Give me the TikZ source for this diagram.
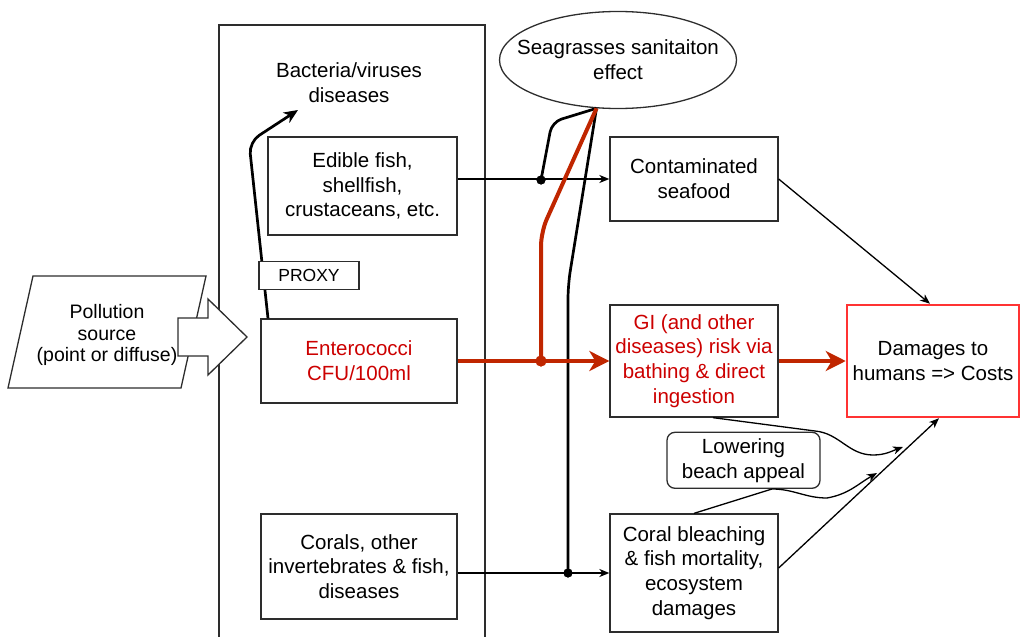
\documentclass[tikz,border=0pt]{standalone}
\usepackage{fontspec}
\setmainfont{Liberation Sans}
\usetikzlibrary{arrows.meta,positioning,shapes.geometric}
\definecolor{txtred}{RGB}{204,0,0}
\definecolor{linkred}{RGB}{192,38,0}
\definecolor{costred}{RGB}{255,51,51}
\definecolor{boxgray}{RGB}{45,45,45}

\begin{document}
\begin{tikzpicture}[
            x=1pt, y=-1pt,
            >={Stealth[length=10pt,width=8pt,inset=3pt]},
            font=\fontsize{20.5}{24.8}\selectfont,
            box/.style={draw=boxgray, line width=1.3pt, align=center, inner sep=0pt},
            link/.style={line width=1.3pt, ->},
            heavy/.style={line width=2.7pt},
            redlink/.style={line width=4pt, draw=linkred},
            bigtip/.style={-{Stealth[length=20pt,width=20pt,inset=6pt]}},
            joint/.style={circle, fill, inner sep=0pt, minimum size=9pt}
        ]
        \useasboundingbox (0,0) rectangle (1021,637);
        % outer frame of the water compartment
        \draw[line width=1.3pt, draw=boxgray] (219,25) rectangle (485,660);

        % pollution source and inflow arrow
        \draw[line width=1.3pt, draw=boxgray, fill=white] (33,276) -- (206,276) -- (181,388) -- (8,388) -- cycle;
        \node[align=center, font=\fontsize{19.5}{21.8}\selectfont] (src) at (107,335) {Pollution\\source\\(point or diffuse)};
        \draw[line width=1.3pt, draw=boxgray, fill=white] (178,318) -- (208,318) -- (208,299) -- (247,337)
            -- (208,375) -- (208,356) -- (178,356) -- cycle;

        \node[align=center] (bact) at (349,83) {Bacteria/viruses\\diseases};
        \node[box, minimum width=189pt, minimum height=98pt] (fish) at (362.5,186) {Edible fish,\\shellfish,\\crustaceans, etc.};
        \node[box, minimum width=196pt, minimum height=84pt, text=txtred] (entero) at (359,361) {Enterococci\\CFU/100ml};
        \node[box, minimum width=196pt, minimum height=105pt] (corals) at (359,566.5) {Corals, other\\invertebrates \& fish,\\diseases};
        \node[ellipse, draw=boxgray, line width=1.3pt, minimum width=237pt, minimum height=97pt,
            inner xsep=-25pt, inner ysep=0pt, align=center] (sea) at (618,60) {Seagrasses sanitaiton\\effect};

        \node[box, minimum width=168pt, minimum height=84pt] (food) at (694,179) {Contaminated\\seafood};
        \node[box, minimum width=168pt, minimum height=112pt, text=txtred] (gi) at (694,361) {GI (and other\\diseases) risk via\\bathing \& direct\\ingestion};
        \node[box, minimum width=168pt, minimum height=118pt] (coral) at (694,573) {Coral bleaching\\\& fish mortality,\\ecosystem\\damages};
        \node[box, draw=costred, line width=2.5pt, minimum width=172pt, minimum height=112pt] (dmg) at (933,361) {Damages to\\humans => Costs};
        \node[box, rounded corners=8pt, minimum width=153pt, minimum height=56pt, below=14pt of gi.south, xshift=49.5pt] (beach) {Lowering\\beach appeal};

        \node[joint] (j1) at (541,180) {};
        \node[joint, fill=linkred, minimum size=11pt] (j2) at (541,361) {};
        \node[joint] (j3) at (568,573) {};
        \coordinate (bacttip) at (298,110);
        \coordinate (tipa) at (903,447);
        \coordinate (tipb) at (877,473);

        % pathways
        \draw[link] (fish.east |- food.west) -- (food.west);
        \draw[link] (corals.east |- coral.west) -- (coral.west);
        \draw[heavy, rounded corners=10pt] (sea.-114) -- (552,122) -- (j1.center);
        \draw[heavy, rounded corners=14pt] (sea.-114) -- (568,285) -- (j3.center);
        \draw[redlink, rounded corners=14pt] (sea.-114) -- (541,232) -- (j2.center);
        \draw[redlink, bigtip] (entero) -- (gi);
        \draw[redlink, bigtip] (gi) -- (dmg);
        \draw[link] (food.east) -- ([xshift=-3pt]dmg.north);
        \draw[link] ([yshift=5pt]coral.east) -- ([xshift=6pt]dmg.south);
        \draw[link] ([xshift=19pt]gi.south) -- (815,431) to[out=-5,in=180] (873,455) to[out=0,in=200] (tipa);
        \draw[link] (coral.north) -- (772,489) to[out=0,in=180] (827,498) to[out=10,in=210] (tipb);
        \node[joint] at (j1) {};
        \node[joint, fill=linkred, minimum size=11pt] at (j2) {};
        \node[joint] at (j3) {};

        \draw[heavy, -{Stealth[length=14pt,width=12pt,inset=4pt]}, rounded corners=12pt]
            ([xshift=-91pt]entero.north) -- (249,142) -- (bacttip);
        \node[box, fill=white, font=\fontsize{17.5}{20}\selectfont, minimum width=100pt, minimum height=28pt,
            above=28pt of entero.north west, anchor=south west, xshift=-2pt] (proxy) {PROXY};
\end{tikzpicture}
\end{document}
